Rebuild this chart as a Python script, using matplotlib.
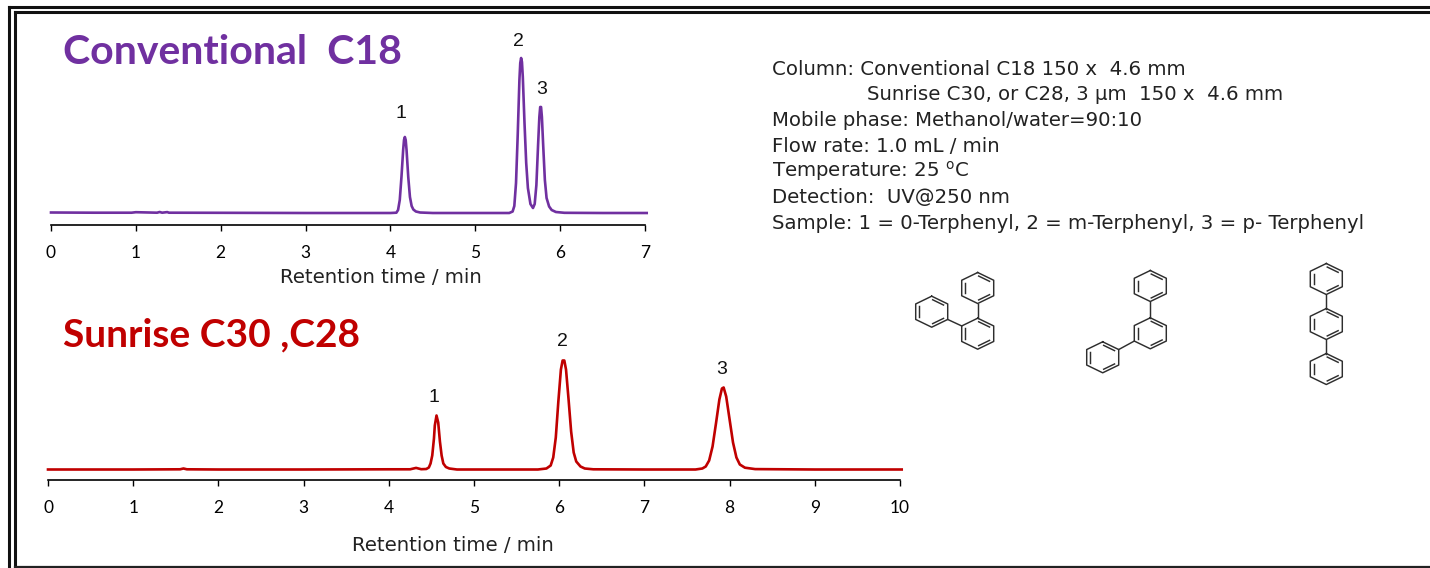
import numpy as np
import matplotlib
matplotlib.use("Agg")
import matplotlib.pyplot as plt

W, H = 1430, 568
PURPLE = "#7030A0"
RED = "#C00000"
BOND = "#2e2e2e"

# ------------------------------------------------------------
# traces (signal = height above baseline)
# ------------------------------------------------------------
c18_time = [0.0, 0.5, 0.95, 1.0, 1.25, 1.28, 1.31, 1.37, 1.39, 1.42, 2.0, 3.0, 4.0, 4.07,
            4.09, 4.11, 4.13, 4.15, 4.16, 4.17, 4.18, 4.19, 4.21, 4.23, 4.25, 4.27, 4.30, 4.35, 4.5,
            5.0, 5.40, 5.44, 5.46, 5.48, 5.50, 5.52, 5.53, 5.54, 5.55, 5.56, 5.58, 5.60, 5.62, 5.65,
            5.68, 5.70, 5.72, 5.74, 5.755, 5.765, 5.775, 5.785, 5.80, 5.82, 5.84, 5.87, 5.90,
            5.95, 6.05, 6.5, 7.02]
c18_signal = [0.5, 0.3, 0.3, 0.8, 0.3, 1.0, 0.3, 0.9, 0.3, 0.3, 0.2, 0.0, 0.0, 0.3,
              3, 13, 36, 63, 73, 76, 73, 63, 36, 16, 7, 3.5, 1.5, 0.5, 0.0,
              0.0, 0.0, 1.5, 7, 30, 78, 133, 150, 155, 151, 136, 90, 50, 25, 9,
              5, 9, 28, 68, 96, 106, 106, 96, 68, 33, 15, 6.5, 3,
              1, 0.2, 0.0, 0.0]

sun_time = [0.0, 0.5, 1.0, 1.55, 1.59, 1.63, 2.0, 3.0, 4.0, 4.25, 4.32, 4.38, 4.44, 4.47,
            4.49, 4.51, 4.53, 4.54, 4.56, 4.58, 4.60, 4.62, 4.64, 4.67, 4.71, 4.8, 5.2, 5.75,
            5.85, 5.90, 5.93, 5.96, 5.99, 6.02, 6.04, 6.06, 6.08, 6.11, 6.14, 6.17, 6.20, 6.25,
            6.3, 6.4, 7.0, 7.6, 7.68, 7.72, 7.76, 7.80, 7.84, 7.88, 7.91, 7.93, 7.96, 8.0,
            8.04, 8.08, 8.12, 8.18, 8.3, 9.0, 10.02]
sun_signal = [0.0, 0.0, 0.0, 0.2, 1.0, 0.2, 0.0, 0.0, 0.2, 0.2, 1.6, 0.3, 0.5, 2,
              6, 14, 31, 44, 54, 47, 28, 14, 6, 2.5, 1, 0.0, 0.0, 0.0,
              1, 4, 12, 32, 68, 100, 109, 109, 100, 70, 38, 17, 8, 3,
              1, 0.2, 0.0, 0.0, 1, 3, 9, 23, 46, 70, 81, 82, 73, 50,
              27, 12, 5, 1.8, 0.4, 0.0, 0.0]

c18_ticks = [0, 1, 2, 3, 4, 5, 6, 7]
sun_ticks = [0, 1, 2, 3, 4, 5, 6, 7, 8, 9, 10]

# x, baseline y, text
conditions = [
    (772, 75, "Column: Conventional C18 150 x  4.6 mm"),
    (867, 100, "Sunrise C30, or C28, 3 µm  150 x  4.6 mm"),
    (772, 126, "Mobile phase: Methanol/water=90:10"),
    (772, 152, "Flow rate: 1.0 mL / min"),
    (772, 177, "Temperature: 25 $^{\\mathrm{o}}$C"),
    (772, 203, "Detection:  UV@250 nm"),
    (772, 229, "Sample: 1 = 0-Terphenyl, 2 = m-Terphenyl, 3 = p- Terphenyl"),
]

# ring centres in pixels, per molecule, then the bonds between rings
ortho_rings = [(977.7, 333.7), (977.7, 288.0), (931.7, 311.7)]
meta_rings = [(1150.3, 333.3), (1150.3, 286.0), (1102.7, 357.3)]
para_rings = [(1326.3, 279.0), (1326.3, 324.0), (1326.3, 369.0)]
ortho_links = [(0, 1), (0, 2)]
meta_links = [(0, 1), (0, 2)]
para_links = [(0, 1), (1, 2)]

FONT_BODY = 14.2

fig = plt.figure(figsize=(W / 100, H / 100), dpi=100)
plt.rcParams["mathtext.default"] = "regular"


def px_axes(left, right, axis_y, top_y):
    return fig.add_axes([left / W, 1 - axis_y / H, (right - left) / W, (axis_y - top_y) / H])


def draw_trace(ax, t, s, color, ticks, xmax, base_px, label_pos):
    ax.plot(t, s, color=color, lw=1.9, clip_on=False, solid_joinstyle="round")
    ax.set_xlim(0, xmax)
    ax.set_ylim(-base_px, ax.get_position().height * H - base_px)
    ax.set_xticks(ticks)
    ax.set_yticks([])
    ax.tick_params(axis="x", length=4.2, width=1.0, pad=10.2, labelsize=12.5)
    for lab in ax.get_xticklabels():
        lab.set_family("Lato")
    for side in ["top", "left", "right"]:
        ax.spines[side].set_visible(False)
    ax.spines["bottom"].set_linewidth(1.2)
    ax.patch.set_alpha(0)
    ax.set_xlabel("Retention time / min", fontsize=FONT_BODY, family="DejaVu Sans", color="#222222")
    ax.xaxis.set_label_coords(label_pos[0], label_pos[1])
    ax.xaxis.label.set_va("center")


ax1 = px_axes(51, 645, 225, 30)
draw_trace(ax1, c18_time, c18_signal, PURPLE, c18_ticks, 7, 12,
           ((381 - 51) / 594, -(277.5 - 225) / 195))
ax2 = px_axes(48, 900, 480, 340)
draw_trace(ax2, sun_time, sun_signal, RED, sun_ticks, 10, 10.5,
           ((453 - 48) / 852, -(545.5 - 480) / 140))

# overlay in pixel coordinates for the frame, notes and structures
ov = fig.add_axes([0, 0, 1, 1], zorder=5)
ov.set_xlim(0, W)
ov.set_ylim(H, 0)
ov.axis("off")
ov.patch.set_alpha(0)

# double frame
for x0, y0, lw in [(9, 6.8, 2.2), (14.7, 12.3, 2.2)]:
    ov.plot([x0, x0], [H + 5, y0], color="#111111", lw=lw, solid_capstyle="projecting")
    ov.plot([x0, W + 5], [y0, y0], color="#111111", lw=lw, solid_capstyle="projecting")
ov.plot([14.5, W + 5], [567, 567], color="#222222", lw=1.6)

ov.text(63, 52, "Conventional  C18", color=PURPLE, fontsize=29.5, fontweight="bold",
        family="Lato", va="center", ha="left")
ov.text(63, 335, "Sunrise C30 ,C28", color=RED, fontsize=28, fontweight="bold",
        family="Lato", va="center", ha="left")

for x, y, s in [(401, 114, "1"), (518, 41, "2"), (542, 89, "3"),
                (434, 398, "1"), (562, 341, "2"), (722, 370, "3")]:
    ov.text(x, y, s, fontsize=14, family="Liberation Sans", ha="center", va="center", color="#111111")

for x, y, s in conditions:
    ov.text(x, y, s, fontsize=FONT_BODY, family="DejaVu Sans", ha="left", va="baseline", color="#222222")


def hexagon(cx, cy, hx=16.0, ry=15.5):
    # pointy-top ring, a bit wider than regular like the drawing
    xs = np.array([0, hx, hx, 0, -hx, -hx])
    ys = np.array([-ry, -ry / 2, ry / 2, ry, ry / 2, -ry / 2])
    return np.column_stack([cx + xs, cy + ys])


def draw_molecule(rings, links):
    verts = [hexagon(cx, cy) for cx, cy in rings]
    for (cx, cy), v in zip(rings, verts):
        closed = np.vstack([v, v[0]])
        ov.plot(closed[:, 0], closed[:, 1], color=BOND, lw=1.05, solid_joinstyle="round")
        # inner lines of the double bonds, every second edge
        inner = np.array([cx, cy]) + (v - np.array([cx, cy])) * 0.8
        for i in (0, 2, 4):
            a, b = inner[i], inner[(i + 1) % 6]
            mid = (a + b) / 2
            a2, b2 = mid + (a - mid) * 0.85, mid + (b - mid) * 0.85
            ov.plot([a2[0], b2[0]], [a2[1], b2[1]], color=BOND, lw=1.05)
    for i, j in links:
        d = np.linalg.norm(verts[i][:, None, :] - verts[j][None, :, :], axis=2)
        a, b = np.unravel_index(np.argmin(d), d.shape)
        ov.plot([verts[i][a, 0], verts[j][b, 0]], [verts[i][a, 1], verts[j][b, 1]], color=BOND, lw=1.05)


draw_molecule(ortho_rings, ortho_links)
draw_molecule(meta_rings, meta_links)
draw_molecule(para_rings, para_links)

fig.savefig("out.png", dpi=100)
